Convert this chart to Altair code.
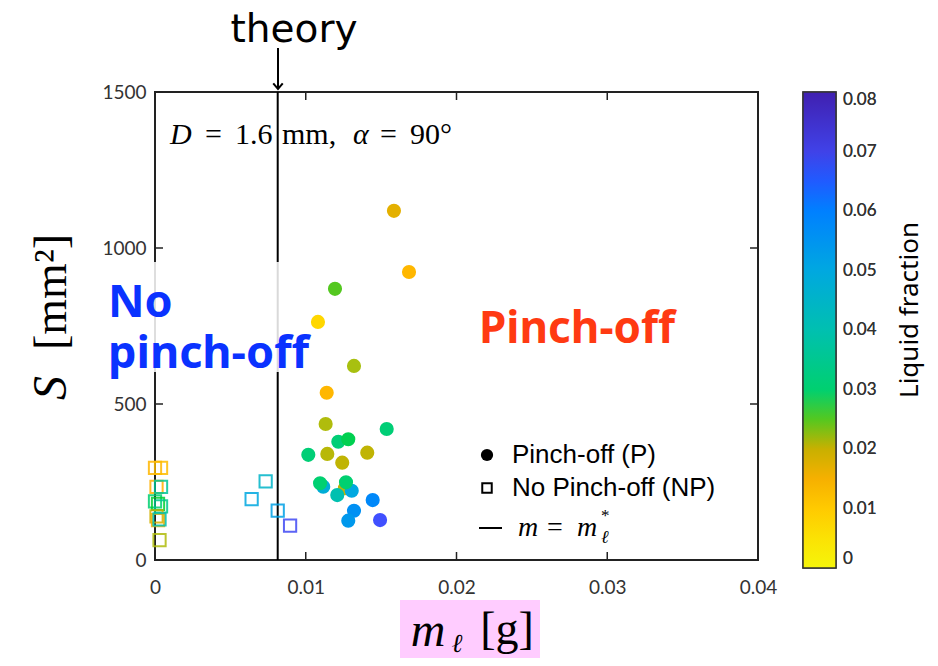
import altair as alt
import pandas as pd

# ---- data ----
p_mass = [0.01585, 0.01685, 0.01194, 0.01081, 0.01320, 0.01139, 0.01132, 0.01537,
          0.01260, 0.01216, 0.01282, 0.01017, 0.01143, 0.01408, 0.01242, 0.01116,
          0.01095, 0.01305, 0.01267, 0.01209, 0.01444, 0.01320, 0.01282, 0.01493]
p_area = [1119, 923, 869, 763, 622, 536, 436, 420,
          230, 379, 387, 337, 340, 344, 312, 235,
          246, 222, 249, 208, 192, 158, 126, 128]
p_frac = [0.017, 0.013, 0.025, 0.008, 0.024, 0.013, 0.023, 0.031,
          0.021, 0.031, 0.028, 0.031, 0.022, 0.021, 0.021, 0.048,
          0.030, 0.050, 0.030, 0.040, 0.058, 0.056, 0.054, 0.066]

np_mass = [0.00734, 0.00641, 0.00814, 0.00896, 0.0000, 0.0004, 0.0001, 0.0004,
           0.0000, 0.0002, 0.0004, 0.0001, 0.0002, 0.0003, 0.0003]
np_area = [252, 195, 158, 110, 295, 295, 234, 234,
           188, 180, 172, 140, 128, 130, 64]
np_frac = [0.045, 0.050, 0.052, 0.068, 0.013, 0.012, 0.014, 0.036,
           0.030, 0.026, 0.034, 0.019, 0.015, 0.040, 0.023]

theory_mass = [0.00814]

x_ticks = [0, 0.01, 0.02, 0.03, 0.04]
y_ticks = [0, 500, 1000, 1500]
cbar_ticks = [0, 0.01, 0.02, 0.03, 0.04, 0.05, 0.06, 0.07, 0.08]

cmap_stops = [0, 0.008, 0.014, 0.020, 0.024, 0.026, 0.030, 0.040, 0.050, 0.060, 0.064, 0.066, 0.080]
cmap_colors = ["#f5f50a", "#ffd700", "#ffb000", "#c8b000", "#a8c010", "#00d030", "#00d070",
               "#00c0b0", "#00a8e0", "#0080ff", "#0066ff", "#4050ff", "#4020b0"]

W, H = 603, 468

pdf = pd.DataFrame({"m": p_mass, "S": p_area, "f": p_frac})
npdf = pd.DataFrame({"m": np_mass, "S": np_area, "f": np_frac})
tdf = pd.DataFrame({"m": theory_mass})
xt = pd.DataFrame({"v": x_ticks})
yt = pd.DataFrame({"v": y_ticks})
one = alt.Data(values=[{"a": 1}])

xscale = alt.Scale(domain=[0, 0.04], nice=False, zero=False)
yscale = alt.Scale(domain=[0, 1500], nice=False)
cscale = alt.Scale(domain=cmap_stops, range=cmap_colors, interpolate="rgb")

xaxis = alt.Axis(values=x_ticks, format="~g", labelFontSize=19, labelFont="Lato",
                 labelColor="#333", labelPadding=18, ticks=False, domain=False,
                 grid=False, title=None, labelFlush=False)
yaxis = alt.Axis(values=y_ticks, format="d", labelFontSize=19, labelFont="Lato",
                 labelColor="#333", labelPadding=9, ticks=False, domain=False,
                 grid=False, title=None, labelFlush=False)

legend = alt.Legend(type="gradient", orient="none", legendX=648, legendY=0,
                    direction="vertical",
                    gradientLength=476, gradientThickness=33,
                    gradientStrokeColor="#333", gradientStrokeWidth=1.5,
                    values=cbar_ticks, format="~g", labelFontSize=17, labelFont="Lato",
                    labelColor="#333", labelOffset=7, labelBaseline="middle",
                    labelOverlap=False, title=None, padding=0)

# plot frame
frame = alt.Chart(one).mark_rect(filled=False, stroke="#222", strokeWidth=2).encode(
    x=alt.value(0), x2=alt.value(W), y=alt.value(0), y2=alt.value(H))

theory = alt.Chart(tdf).mark_rule(color="black", strokeWidth=2).encode(
    x=alt.X("m:Q", scale=xscale, axis=xaxis))

# white box behind "No pinch-off"
box = alt.Chart(one).mark_rect(color="white", opacity=0.85).encode(
    x=alt.value(-50), x2=alt.value(157), y=alt.value(170), y2=alt.value(280))

squares = alt.Chart(npdf).mark_point(shape="square", filled=False, size=150,
                                     strokeWidth=2, opacity=0.85).encode(
    x=alt.X("m:Q", scale=xscale, axis=xaxis),
    y=alt.Y("S:Q", scale=yscale, axis=yaxis),
    color=alt.Color("f:Q", scale=cscale, legend=legend))

circles = alt.Chart(pdf).mark_circle(size=200, opacity=1).encode(
    x=alt.X("m:Q", scale=xscale, axis=xaxis),
    y=alt.Y("S:Q", scale=yscale, axis=yaxis),
    color=alt.Color("f:Q", scale=cscale, legend=legend))

tick_style = dict(color="#222", strokeWidth=1.5)
xt_bottom = alt.Chart(xt).mark_rule(**tick_style).encode(
    x=alt.X("v:Q", scale=xscale), y=alt.value(H), y2=alt.value(H - 8))
xt_top = alt.Chart(xt).mark_rule(**tick_style).encode(
    x=alt.X("v:Q", scale=xscale), y=alt.value(0), y2=alt.value(8))
yt_left = alt.Chart(yt).mark_rule(**tick_style).encode(
    y=alt.Y("v:Q", scale=yscale), x=alt.value(0), x2=alt.value(8))
yt_right = alt.Chart(yt).mark_rule(**tick_style).encode(
    y=alt.Y("v:Q", scale=yscale), x=alt.value(W), x2=alt.value(W - 8))


def txt(s, x, y, size, font="Liberation Sans", color="black", weight="normal",
        style="normal", align="left", baseline="middle", angle=0):
    return alt.Chart(one).mark_text(
        text=s, font=font, fontSize=size, color=color, fontWeight=weight,
        fontStyle=style, align=align, baseline=baseline, angle=angle).encode(
        x=alt.value(x), y=alt.value(y))


texts = [
    txt("theory", 139, -50, 39, font="DejaVu Sans", align="center", baseline="alphabetic"),
    txt("No", -47, 225, 45, font="Noto Sans", color="#0a32ff", weight="bold", baseline="alphabetic"),
    txt("pinch-off", -47, 276, 45, font="Noto Sans", color="#0a32ff", weight="bold", baseline="alphabetic"),
    txt("Pinch-off", 422, 251, 44, font="Noto Sans", color="#ff3a12", weight="bold",
        align="center", baseline="alphabetic"),
    # D = 1.6 mm, alpha = 90 deg
    txt("D", 15, 43, 30, font="Liberation Serif", style="italic"),
    txt("=", 50, 43, 30, font="Liberation Serif"),
    txt("1.6", 80, 43, 30, font="Liberation Serif"),
    txt("mm,", 127, 43, 30, font="Liberation Serif"),
    txt("α", 198, 43, 30, font="Liberation Serif", style="italic"),
    txt("=", 225, 43, 30, font="Liberation Serif"),
    txt("90°", 255, 43, 30, font="Liberation Serif"),
    # legend entries
    txt("Pinch-off (P)", 357, 363, 26),
    txt("No Pinch-off (NP)", 357, 396, 26),
    txt("m", 363, 436, 28, font="Liberation Serif", style="italic"),
    txt("=", 392, 436, 28, font="Liberation Serif"),
    txt("m", 422, 436, 28, font="Liberation Serif", style="italic"),
    txt("*", 446, 424, 17, font="Liberation Serif"),
    txt("ℓ", 446, 446, 18, font="Liberation Serif", style="italic"),
    # y title
    txt("S", -103, 296, 48, font="Liberation Serif", style="italic", align="center", angle=270),
    txt("[mm²]", -103, 200, 46, font="Liberation Serif", align="center", angle=270),
    # x title
    txt("m", 273, 540, 48, font="Liberation Serif", style="italic", align="center"),
    txt("ℓ", 302, 552, 26, font="Liberation Serif", style="italic", align="center"),
    txt("[g]", 352, 538, 46, font="Liberation Serif", align="center"),
    # colorbar title
    txt("Liquid fraction", 755, 218, 26, font="Noto Sans", align="center", angle=270),
]

pink = alt.Chart(one).mark_rect(color="#ffccff").encode(
    x=alt.value(245), x2=alt.value(385), y=alt.value(508), y2=alt.value(568))

leg_circle = alt.Chart(one).mark_point(shape="circle", filled=True, color="black",
                                       size=150, opacity=1).encode(
    x=alt.value(332), y=alt.value(363))
leg_square = alt.Chart(one).mark_point(shape="square", filled=False, color="black",
                                       size=90, strokeWidth=2, opacity=1).encode(
    x=alt.value(332), y=alt.value(396))
leg_line = alt.Chart(one).mark_rule(color="black", strokeWidth=2).encode(
    x=alt.value(324), x2=alt.value(347), y=alt.value(436))

arrow_shaft = alt.Chart(one).mark_rule(color="black", strokeWidth=2).encode(
    x=alt.value(123), y=alt.value(-44), y2=alt.value(-3))
arrow_head = alt.Chart(one).mark_point(shape="M -1 -1.2 L 0 0 L 1 -1.2", filled=False,
                                       color="black", size=90, strokeWidth=2,
                                       opacity=1).encode(
    x=alt.value(123), y=alt.value(-3))

chart = alt.layer(
    frame, theory, box, pink, squares, circles,
    xt_bottom, xt_top, yt_left, yt_right,
    leg_circle, leg_square, leg_line, arrow_shaft, arrow_head,
    *texts,
).resolve_legend(color="independent").properties(
    width=W, height=H,
    autosize=alt.AutoSizeParams(type="none"),
    padding={"left": 147, "top": 84, "right": 172, "bottom": 98},
).configure_view(stroke=None).configure(background="white")

chart.save("out.html", embed_options={"renderer": "svg", "actions": False})
